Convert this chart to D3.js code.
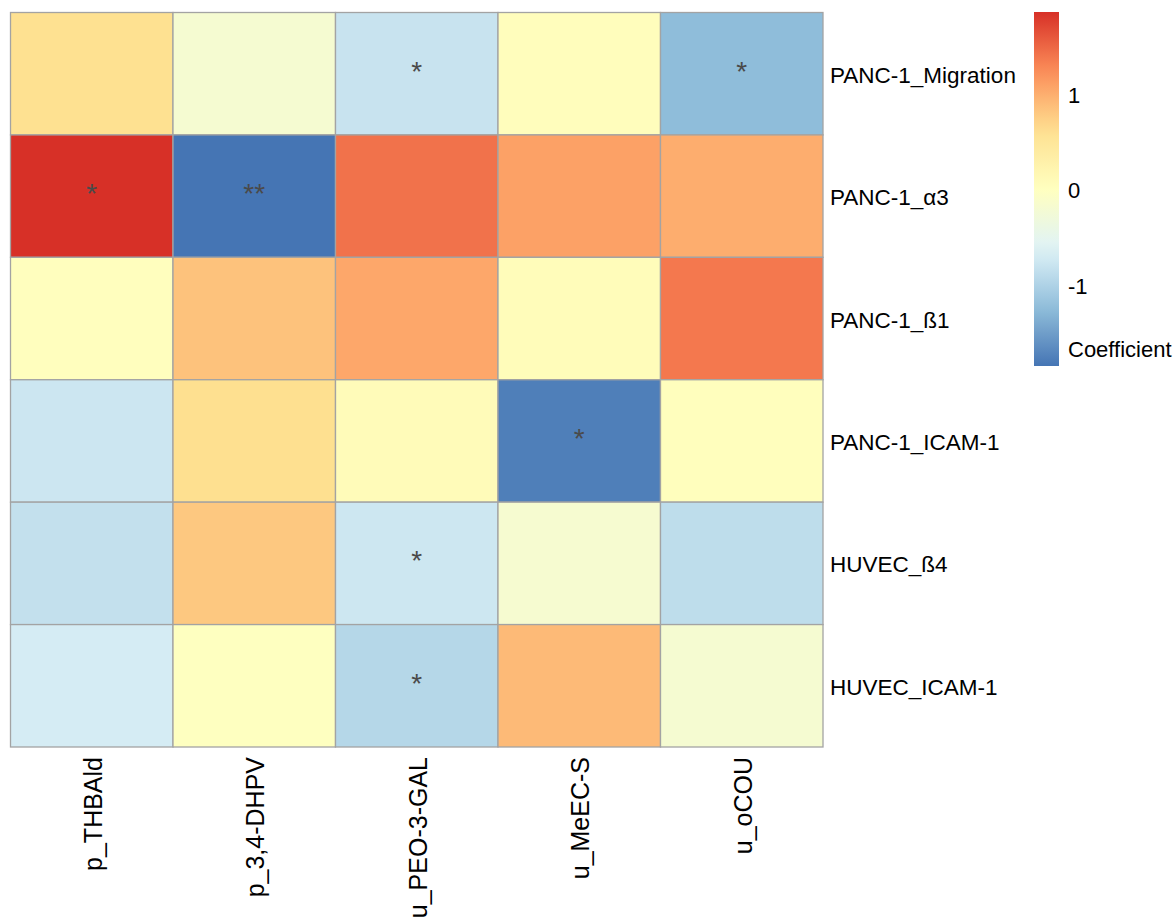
<!DOCTYPE html>
<html>
<head>
<meta charset="utf-8">
<script src="https://cdn.jsdelivr.net/npm/d3@7"></script>
<style>
  html, body { margin: 0; padding: 0; background: #ffffff; }
  svg text { font-family: "Liberation Sans", Arial, sans-serif; }
</style>
</head>
<body>
<svg id="chart" width="1176" height="922"></svg>
<script>
// Rows (cell lines / markers) and columns (metabolites)
const rowNames = ["PANC-1_Migration", "PANC-1_α3", "PANC-1_ß1", "PANC-1_ICAM-1", "HUVEC_ß4", "HUVEC_ICAM-1"];
const colNames = ["p_THBAld", "p_3,4-DHPV", "u_PEO-3-GAL", "u_MeEC-S", "u_oCOU"];

// Correlation coefficients, one array per row (same order as colNames)
const migration = [0.62, -0.18, -0.79, 0.05, -1.24];
const alpha3    = [1.87, -1.84, 1.43, 1.10, 1.01];
const beta1     = [0.03, 0.86, 1.06, 0.08, 1.39];
const icam1     = [-0.76, 0.63, 0.10, -1.76, 0.04];
const huvecB4   = [-0.83, 0.81, -0.75, -0.17, -0.87];
const huvecIcam = [-0.69, 0.00, -0.94, 0.92, -0.18];

// Significance marks, same layout as the coefficients
const starsMigration = ["", "", "*", "", "*"];
const starsAlpha3    = ["*", "**", "", "", ""];
const starsBeta1     = ["", "", "", "", ""];
const starsIcam1     = ["", "", "", "*", ""];
const starsHuvecB4   = ["", "", "*", "", ""];
const starsHuvecIcam = ["", "", "*", "", ""];

// Legend ticks
const legendTicks = [1, 0, -1];
const legendTitle = "Coefficient";

const values = [migration, alpha3, beta1, icam1, huvecB4, huvecIcam];
const stars = [starsMigration, starsAlpha3, starsBeta1, starsIcam1, starsHuvecB4, starsHuvecIcam];

const cells = [];
values.forEach((row, i) => row.forEach((v, j) => {
  cells.push({ row: rowNames[i], col: colNames[j], value: v, star: stars[i][j] });
}));

const svg = d3.select("#chart");

const grid = { left: 10.5, top: 12.5, right: 823, bottom: 747 };

const x = d3.scaleBand().domain(colNames).range([grid.left, grid.right]).padding(0);
const y = d3.scaleBand().domain(rowNames).range([grid.top, grid.bottom]).padding(0);

// Reversed RdYlBu (7 classes), spread evenly across the data range
const palette = ["#4575B4", "#91BFDB", "#E0F3F8", "#FFFFBF", "#FEE090", "#FC8D59", "#D73027"];
const [vmin, vmax] = d3.extent(cells, d => d.value);
const color = d3.scaleLinear()
  .domain(palette.map((_, k) => vmin + (vmax - vmin) * k / (palette.length - 1)))
  .range(palette)
  .interpolate(d3.interpolateRgb);

// Heatmap cells
svg.append("g")
  .selectAll("rect")
  .data(cells)
  .join("rect")
  .attr("x", d => x(d.col))
  .attr("y", d => y(d.row))
  .attr("width", x.bandwidth())
  .attr("height", y.bandwidth())
  .attr("fill", d => color(d.value))
  .attr("stroke", "#a3a3a3")
  .attr("stroke-width", 1.3);

// Significance asterisks
svg.append("g")
  .selectAll("text")
  .data(cells.filter(d => d.star))
  .join("text")
  .attr("x", d => x(d.col) + x.bandwidth() / 2)
  .attr("y", d => y(d.row) + y.bandwidth() / 2 + 7)
  .attr("text-anchor", "middle")
  .attr("font-size", 28)
  .attr("fill", "#4a4a4a")
  .text(d => d.star);

// Row labels on the right
svg.append("g")
  .selectAll("text")
  .data(rowNames)
  .join("text")
  .attr("x", grid.right + 7)
  .attr("y", d => y(d) + y.bandwidth() / 2 + 9)
  .attr("font-size", 22.5)
  .attr("fill", "#000")
  .text(d => d);

// Column labels, rotated, below the grid
svg.append("g")
  .selectAll("text")
  .data(colNames)
  .join("text")
  .attr("transform", d => `translate(${x(d) + x.bandwidth() / 2 + 10},${grid.bottom + 10}) rotate(-90)`)
  .attr("text-anchor", "end")
  .attr("font-size", 25)
  .attr("fill", "#000")
  .text(d => d);

// Colour legend
const leg = { x: 1034, w: 25, top: 12, bottom: 366 };
const ly = d3.scaleLinear().domain([vmin, vmax]).range([leg.bottom, leg.top]);

const defs = svg.append("defs");
const grad = defs.append("linearGradient")
  .attr("id", "legendGrad")
  .attr("x1", 0).attr("y1", 1).attr("x2", 0).attr("y2", 0);
d3.range(0, 1.0001, 0.05).forEach(t => {
  grad.append("stop")
    .attr("offset", t)
    .attr("stop-color", color(vmin + (vmax - vmin) * t));
});

svg.append("rect")
  .attr("x", leg.x)
  .attr("y", leg.top)
  .attr("width", leg.w)
  .attr("height", leg.bottom - leg.top)
  .attr("fill", "url(#legendGrad)");

svg.append("g")
  .selectAll("text")
  .data(legendTicks)
  .join("text")
  .attr("x", leg.x + leg.w + 9)
  .attr("y", d => ly(d) + 8)
  .attr("font-size", 22)
  .attr("fill", "#000")
  .text(d => String(d));

svg.append("text")
  .attr("x", leg.x + leg.w + 9)
  .attr("y", 357)
  .attr("font-size", 22)
  .attr("fill", "#000")
  .text(legendTitle);
</script>
</body>
</html>
